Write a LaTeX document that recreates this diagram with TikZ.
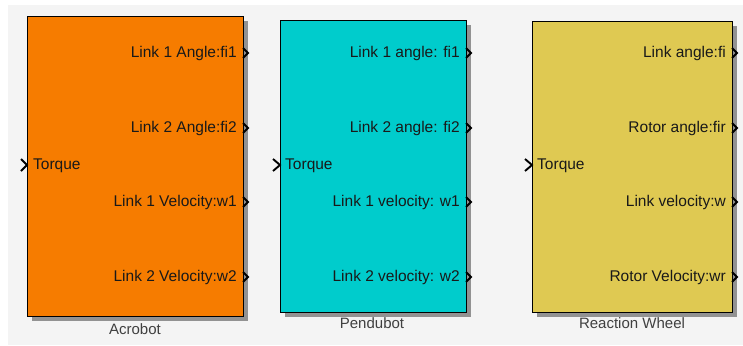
\documentclass[tikz,border=0pt]{standalone}
\usepackage{fontspec}
\setsansfont{Liberation Sans}
\usepackage{tikz}
\usetikzlibrary{shadows}
\usetikzlibrary{positioning}

\definecolor{acroorange}{RGB}{246,124,0}
\definecolor{penducyan}{RGB}{0,204,204}
\definecolor{wheelyellow}{RGB}{223,201,82}
\definecolor{canvasgray}{RGB}{244,244,244}

\tikzset{
	block/.style={draw=black, line width=1.2pt, anchor=north west, inner sep=0pt,
		drop shadow={shadow xshift=4pt, shadow yshift=-4pt, fill=black, opacity=0.4}},
	port/.style={font=\sffamily\fontsize{15.5}{17}\selectfont, inner sep=0pt, text=black!90},
	blockname/.style={font=\sffamily\fontsize{15}{17}\selectfont, inner sep=0pt, text=black!75},
	chev/.style={line width=1.9pt, line join=miter}
}

\begin{document}
\begin{tikzpicture}[x=1pt, y=-1pt]
		\useasboundingbox (0,0) rectangle (743,345);
		\fill[canvasgray] (8,5) rectangle (743,345);

		% Acrobot
		\node[block, fill=acroorange, minimum width=216pt, minimum height=300pt] (acro) at (27,16) {};
		\node[blockname] (acroname) at (135,329) {Acrobot};
		\node[port, anchor=west] (acroin) at (33,166) {Torque};
		\draw[chev] (21,159) -- (27,165) -- (21,171);
		\foreach \y/\txt [count=\i] in {53/Link 1 Angle:fi1, 128/Link 2 Angle:fi2, 202/Link 1 Velocity:w1, 277/Link 2 Velocity:w2}
		{
			\node[port, anchor=east] (acroout\i) at (237,\y) {\txt};
			\draw[chev] (243,\y-5) -- (248,\y) -- (243,\y+5);
		}

		% Pendubot
		\node[block, fill=penducyan, minimum width=186pt, minimum height=292pt] (pendu) at (280,20) {};
		\node[blockname] (penduname) at (372,323) {Pendubot};
		\node[port, anchor=west] (penduin) at (285,166) {Torque};
		\draw[chev] (273,159) -- (280,165) -- (273,171);
		\foreach \y/\txt [count=\i] in {53/Link 1 angle: fi1, 128/Link 2 angle: fi2, 202/Link 1 velocity: w1, 277/Link 2 velocity: w2}
		{
			\node[port, anchor=east] (penduout\i) at (460,\y) {\txt};
			\draw[chev] (466,\y-5) -- (471,\y) -- (466,\y+5);
		}

		% Reaction wheel
		\node[block, fill=wheelyellow, minimum width=200pt, minimum height=291pt] (wheel) at (532,21) {};
		\node[blockname] (wheelname) at (632,323) {Reaction Wheel};
		\node[port, anchor=west] (wheelin) at (537,166) {Torque};
		\draw[chev] (525,159) -- (532,165) -- (525,171);
		\foreach \y/\txt [count=\i] in {53/Link angle:fi, 128/Rotor angle:fir, 202/Link velocity:w, 277/Rotor Velocity:wr}
		{
			\node[port, anchor=east] (wheelout\i) at (726,\y) {\txt};
			\draw[chev] (732,\y-5) -- (737,\y) -- (732,\y+5);
		}
	\end{tikzpicture}
\end{document}
